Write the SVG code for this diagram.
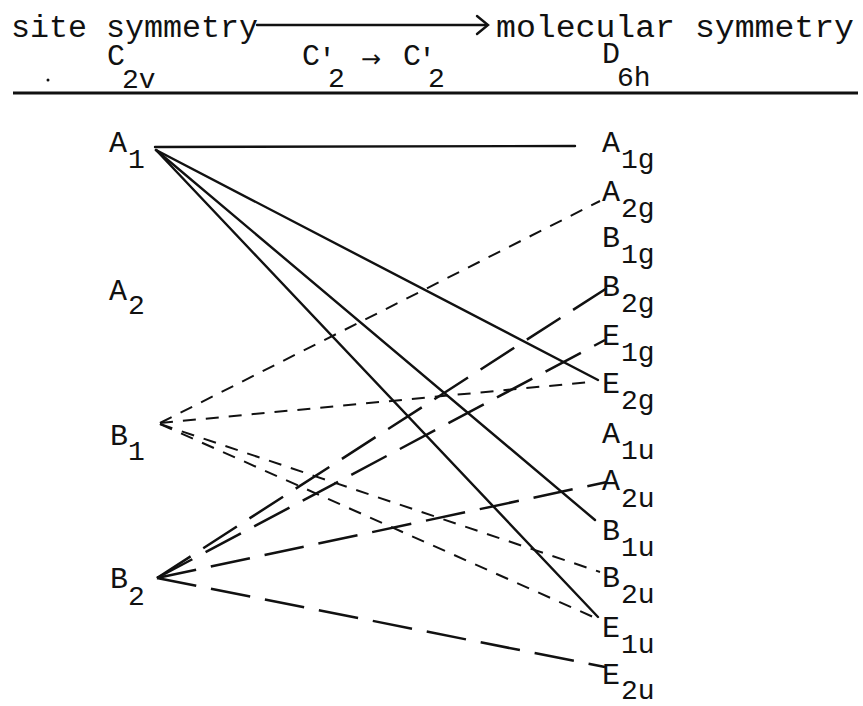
<svg xmlns="http://www.w3.org/2000/svg" width="863" height="706" viewBox="0 0 863 706">
<style>
  text { font-family: "Liberation Mono", "DejaVu Sans Mono", monospace; font-size: 30px; fill: #111; }
  .hdr { font-size: 31px; }
  .sub { font-size: 28px; }
  .solid { stroke: #111; stroke-width: 2.4; fill: none; stroke-linecap: round; }
  .short { stroke: #111; stroke-width: 2; fill: none; stroke-dasharray: 13 10; }
  .long { stroke: #111; stroke-width: 2.5; fill: none; stroke-dasharray: 40 15; }
  .rule { stroke: #111; stroke-width: 3; fill: none; }
</style>
<rect width="863" height="706" fill="#fff"/>

<g id="header">
  <text class="hdr" x="11" y="37" textLength="247" lengthAdjust="spacingAndGlyphs">site symmetry</text>
  <line class="solid" x1="257" y1="25" x2="487" y2="25"/>
  <path class="solid" d="M477,16 L488,25 L477,34"/>
  <text class="hdr" x="496" y="37" textLength="358" lengthAdjust="spacingAndGlyphs">molecular symmetry</text>
  <circle cx="48" cy="80" r="1.5" fill="#111"/>
  <g id="site-group">
    <text x="107" y="65">C<tspan class="sub" x="122" y="88">2v</tspan></text>
  </g>
  <g id="correlation">
    <text x="302" y="65">C<tspan x="318" y="69">'</tspan><tspan class="sub" x="328" y="87">2</tspan><tspan x="361" y="67" style="font-family:'DejaVu Sans','Liberation Sans',sans-serif;font-size:24px">→</tspan><tspan x="403" y="65">C</tspan><tspan x="418" y="69">'</tspan><tspan class="sub" x="428" y="87">2</tspan></text>
  </g>
  <g id="mol-group">
    <text x="602" y="63">D<tspan class="sub" x="617" y="86">6h</tspan></text>
  </g>
  <line class="rule" x1="13" y1="93" x2="858" y2="93"/>
</g>

<g id="connectors">
  <line class="solid" x1="155" y1="147" x2="575" y2="146"/>
  <line class="solid" x1="156" y1="150" x2="598" y2="380"/>
  <line class="solid" x1="156" y1="150" x2="595" y2="520"/>
  <line class="solid" x1="156" y1="150" x2="598" y2="617"/>

  <line class="short" x1="160" y1="423" x2="600" y2="201"/>
  <line class="short" x1="160" y1="423" x2="590" y2="382"/>
  <line class="short" x1="160" y1="424" x2="600" y2="572"/>
  <line class="short" x1="160" y1="424" x2="600" y2="620"/>

  <line class="long" x1="157" y1="578" x2="607" y2="288"/>
  <line class="long" x1="157" y1="578" x2="605" y2="340"/>
  <line class="long" x1="157" y1="578" x2="607" y2="482"/>
  <line class="long" x1="157" y1="578" x2="605" y2="667"/>
</g>

<g id="A1"><text x="109" y="152">A<tspan class="sub" x="128" y="168">1</tspan></text></g>
<g id="A2"><text x="109" y="300">A<tspan class="sub" x="128" y="314">2</tspan></text></g>
<g id="B1"><text x="110" y="445">B<tspan class="sub" x="128" y="460">1</tspan></text></g>
<g id="B2"><text x="110" y="588">B<tspan class="sub" x="128" y="605">2</tspan></text></g>

<g id="A1g"><text x="602" y="152">A<tspan class="sub" x="621" y="168">1g</tspan></text></g>
<g id="A2g"><text x="602" y="201">A<tspan class="sub" x="621" y="217">2g</tspan></text></g>
<g id="B1g"><text x="602" y="247">B<tspan class="sub" x="621" y="263">1g</tspan></text></g>
<g id="B2g"><text x="602" y="296">B<tspan class="sub" x="621" y="312">2g</tspan></text></g>
<g id="E1g"><text x="602" y="345">E<tspan class="sub" x="621" y="361">1g</tspan></text></g>
<g id="E2g"><text x="602" y="393">E<tspan class="sub" x="621" y="409">2g</tspan></text></g>
<g id="A1u"><text x="602" y="443">A<tspan class="sub" x="621" y="459">1u</tspan></text></g>
<g id="A2u"><text x="602" y="490">A<tspan class="sub" x="621" y="507">2u</tspan></text></g>
<g id="B1u"><text x="602" y="540">B<tspan class="sub" x="621" y="556">1u</tspan></text></g>
<g id="B2u"><text x="602" y="587">B<tspan class="sub" x="621" y="603">2u</tspan></text></g>
<g id="E1u"><text x="602" y="637">E<tspan class="sub" x="621" y="653">1u</tspan></text></g>
<g id="E2u"><text x="602" y="684">E<tspan class="sub" x="621" y="699">2u</tspan></text></g>
</svg>
